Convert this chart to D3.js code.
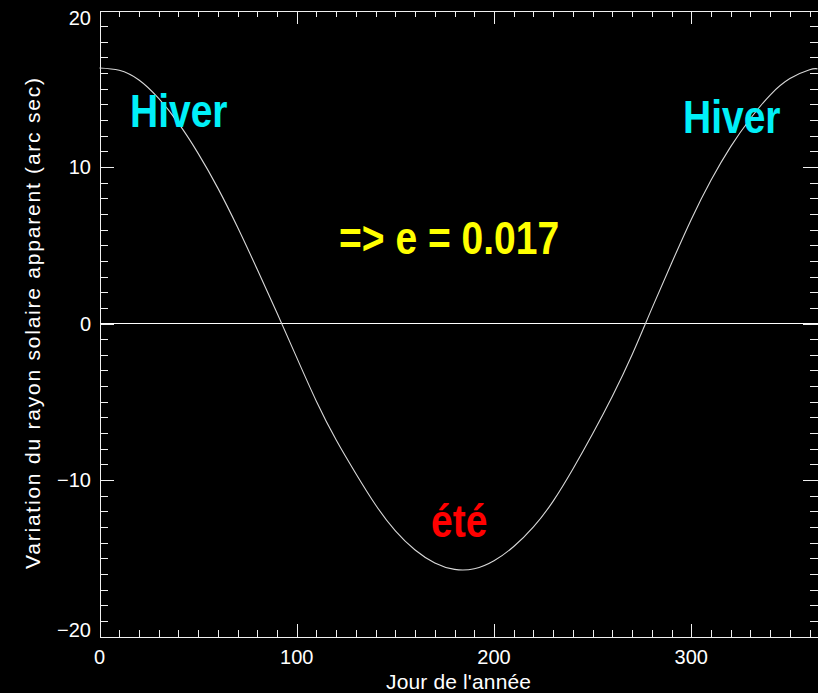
<!DOCTYPE html>
<html>
<head>
<meta charset="utf-8">
<script src="https://cdn.jsdelivr.net/npm/d3@7"></script>
<style>
  html, body { margin: 0; padding: 0; background: #000; }
  svg { display: block; }
</style>
</head>
<body>
<script>
// Day of the year and variation of the apparent solar radius (arc sec)
const days = [0, 10, 20, 30, 40, 50, 60, 70, 80, 90, 100, 110, 120, 130, 140, 150, 160, 170, 180,
              190, 200, 210, 220, 230, 240, 250, 260, 270, 280, 290, 300, 310, 320, 330, 340, 350, 360, 364];
const radiusVariation = [16.33, 16.18, 15.56, 14.38, 12.80, 10.87, 8.65, 6.15, 3.45, 0.67, -2.18, -4.98, -7.45,
              -9.6, -11.6, -13.25, -14.47, -15.3, -15.71, -15.67, -15.16, -14.25, -13.0, -11.35, -9.3, -7.05,
              -4.65, -2.0, 0.95, 3.85, 6.65, 9.15, 11.3, 13.1, 14.6, 15.65, 16.22, 16.27];

const xMajorTicks = [0, 100, 200, 300];
const xMinorTicks = d3.range(10, 361, 10).filter(d => d % 100 !== 0);
const yMajorTicks = [-20, -10, 0, 10, 20];
const yMinorTicks = d3.range(-19, 20, 1).filter(d => d % 10 !== 0);

const xTitle = "Jour de l'année";
const yTitle = "Variation du rayon solaire apparent (arc sec)";

const annotations = [
  { text: "Hiver", x: 130, y: 127, color: "#00f0f8" },
  { text: "Hiver", x: 683, y: 133, color: "#00f0f8" },
  { text: "=> e = 0.017", x: 339, y: 254, color: "#ffff00" },
  { text: "été", x: 431, y: 537, color: "#ff0000" }
];

const W = 818, H = 693;
const plotLeft = 99.5, plotRight = 817.5, plotTop = 10.5, plotBottom = 636.5;

const svg = d3.select("body").append("svg")
  .attr("width", W).attr("height", H)
  .style("background", "#000");

const x = d3.scaleLinear().domain([0, 364]).range([plotLeft, plotRight]);
const y = d3.scaleLinear().domain([-20, 20]).range([plotBottom, plotTop]);

const axisColor = "#f0f0f0";

function styleAxis(g) {
  g.selectAll("path.domain").attr("stroke", axisColor).attr("stroke-width", 1);
  g.selectAll(".tick line").attr("stroke", axisColor).attr("stroke-width", 1);
  g.selectAll(".tick text").remove();
  g.attr("shape-rendering", "crispEdges");
}

// Bottom axis (ticks pointing up into the plot)
svg.append("g").attr("transform", `translate(0,${plotBottom})`)
  .call(d3.axisTop(x).tickValues(xMajorTicks).tickSizeInner(13).tickSizeOuter(0)).call(styleAxis);
svg.append("g").attr("transform", `translate(0,${plotBottom})`)
  .call(d3.axisTop(x).tickValues(xMinorTicks).tickSizeInner(7).tickSizeOuter(0)).call(styleAxis);
// Top axis (ticks pointing down)
svg.append("g").attr("transform", `translate(0,${plotTop})`)
  .call(d3.axisBottom(x).tickValues(xMajorTicks).tickSizeInner(13).tickSizeOuter(0)).call(styleAxis);
svg.append("g").attr("transform", `translate(0,${plotTop})`)
  .call(d3.axisBottom(x).tickValues(xMinorTicks).tickSizeInner(6).tickSizeOuter(0)).call(styleAxis);
// Left axis (ticks pointing right)
svg.append("g").attr("transform", `translate(${plotLeft},0)`)
  .call(d3.axisRight(y).tickValues(yMajorTicks).tickSizeInner(14).tickSizeOuter(0)).call(styleAxis);
svg.append("g").attr("transform", `translate(${plotLeft},0)`)
  .call(d3.axisRight(y).tickValues(yMinorTicks).tickSizeInner(8).tickSizeOuter(0)).call(styleAxis);
// Right axis (ticks pointing left)
svg.append("g").attr("transform", `translate(${plotRight},0)`)
  .call(d3.axisLeft(y).tickValues(yMajorTicks).tickSizeInner(15).tickSizeOuter(0)).call(styleAxis);
svg.append("g").attr("transform", `translate(${plotRight},0)`)
  .call(d3.axisLeft(y).tickValues(yMinorTicks).tickSizeInner(8).tickSizeOuter(0)).call(styleAxis);

// Tick labels
const tickFont = "'Liberation Sans', Arial, sans-serif";
svg.append("g").selectAll("text").data(xMajorTicks).join("text")
  .attr("x", d => x(d)).attr("y", 664)
  .attr("text-anchor", "middle")
  .attr("fill", "#fff").attr("font-family", tickFont).attr("font-size", 20)
  .text(d => d);

// End labels are kept inside the vertical extent of the frame
const labelHalf = 7;
svg.append("g").selectAll("text").data(yMajorTicks).join("text")
  .attr("x", 91).attr("y", d => Math.max(plotTop + labelHalf, Math.min(plotBottom - labelHalf, y(d))) + 7)
  .attr("text-anchor", "end")
  .attr("fill", "#fff").attr("font-family", tickFont).attr("font-size", 20)
  .text(d => d < 0 ? "\u2212" + Math.abs(d) : d);

// Axis titles
svg.append("text")
  .attr("x", (plotLeft + plotRight) / 2).attr("y", 689)
  .attr("text-anchor", "middle")
  .attr("fill", "#fff").attr("font-family", tickFont).attr("font-size", 21)
  .attr("textLength", 145).attr("lengthAdjust", "spacing")
  .text(xTitle);

svg.append("text")
  .attr("transform", `translate(40,${(plotTop + plotBottom) / 2}) rotate(-90)`)
  .attr("text-anchor", "middle")
  .attr("fill", "#fff").attr("font-family", tickFont).attr("font-size", 21)
  .attr("textLength", 491).attr("lengthAdjust", "spacing")
  .text(yTitle);

// Zero reference line
svg.append("line")
  .attr("x1", plotLeft).attr("x2", plotRight).attr("y1", y(0)).attr("y2", y(0))
  .attr("stroke", "#fff").attr("stroke-width", 1).attr("shape-rendering", "crispEdges");

// Curve
const line = d3.line()
  .x((d, i) => x(days[i]))
  .y(d => y(d))
  .curve(d3.curveNatural);

svg.append("path")
  .datum(radiusVariation)
  .attr("d", line)
  .attr("fill", "none")
  .attr("stroke", "#d8d8d8")
  .attr("stroke-width", 1.1);

// Annotations
svg.append("g").selectAll("text").data(annotations).join("text")
  .attr("transform", d => `translate(${d.x},${d.y}) scale(1,1.17)`)
  .attr("fill", d => d.color)
  .attr("font-family", tickFont).attr("font-weight", "bold").attr("font-size", 39)
  .text(d => d.text);
</script>
</body>
</html>
